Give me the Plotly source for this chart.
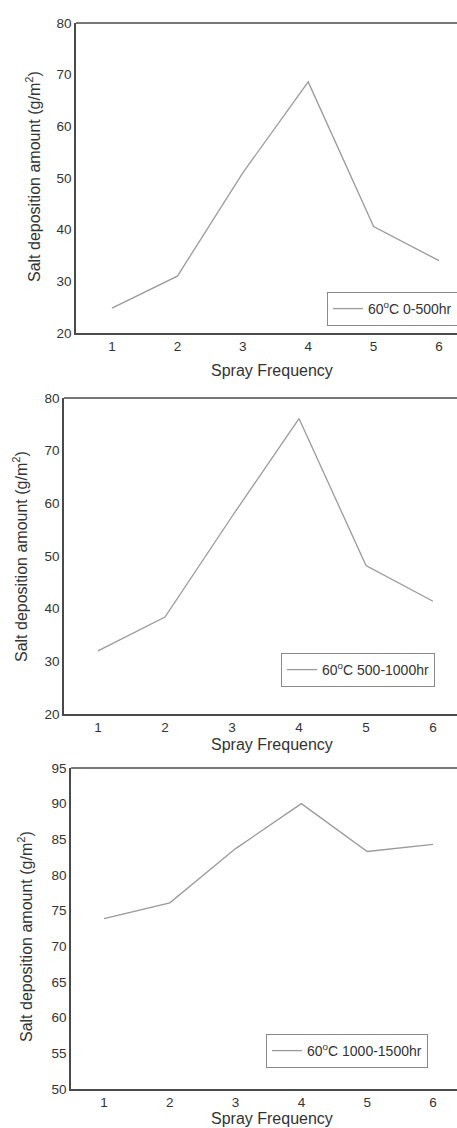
import plotly.graph_objects as go

spray_freq = [1, 2, 3, 4, 5, 6]
salt_0_500 = [24.8, 31.0, 51.0, 68.6, 40.6, 34.0]
salt_500_1000 = [32.0, 38.4, 57.5, 76.1, 48.2, 41.4]
salt_1000_1500 = [73.9, 76.1, 83.7, 90.0, 83.3, 84.3]
labels = ["60<sup>o</sup>C 0-500hr", "60<sup>o</sup>C 500-1000hr", "60<sup>o</sup>C 1000-1500hr"]
y_ranges = [[20, 80], [20, 80], [50, 95]]
y_ticks = [[20, 30, 40, 50, 60, 70, 80], [20, 30, 40, 50, 60, 70, 80],
           [50, 55, 60, 65, 70, 75, 80, 85, 90, 95]]

W, H = 457, 1128
FONT = "Liberation Sans, Arial, sans-serif"
AX = "#4a4a4a"
TXT = "#333333"
LINE = "#9a9a9a"

# pixel layout per panel: (left px, top px, bottom px, x range, legend pos, y-title pos, x-title y)
panels = [
    (76, 23, 333, [0.45, 6.275], (327, 292), (33, 177), 370),
    (64, 398, 714, [0.493, 6.358], (281, 653), (20, 557), 745),
    (71, 768, 1089, [0.498, 6.365], (266, 1034), (25, 937), 1118),
]
series = [salt_0_500, salt_500_1000, salt_1000_1500]

fig = go.Figure()
layout = dict(width=W, height=H, margin=dict(l=0, r=0, t=0, b=0, autoexpand=False),
              paper_bgcolor="white", plot_bgcolor="white",
              font=dict(family=FONT, color=TXT, size=13))
shapes = []
annotations = []
for i, (left, top, bottom, xr, leg, ytitle, xtitle_y) in enumerate(panels):
    n = "" if i == 0 else str(i + 1)
    xa, ya = "x" + n, "y" + n
    lg = "legend" if i == 0 else "legend" + str(i + 1)
    fig.add_trace(go.Scatter(x=spray_freq, y=series[i], mode="lines",
                             line=dict(color=LINE, width=1.3),
                             name=labels[i], xaxis=xa, yaxis=ya, legend=lg,
                             showlegend=True))
    layout["xaxis" + n] = dict(domain=[left / W, 1], range=xr, anchor=ya,
                               tickvals=spray_freq, showgrid=False, zeroline=False,
                               showline=True, linecolor=AX, linewidth=1.6,
                               ticks="", tickfont=dict(size=13.5, color=TXT))
    layout["yaxis" + n] = dict(domain=[(H - bottom) / H, (H - top) / H], range=y_ranges[i],
                               anchor=xa, tickvals=y_ticks[i], showgrid=False,
                               zeroline=False, showline=True, linecolor=AX, linewidth=1.6,
                               ticks="", tickfont=dict(size=13.5, color=TXT))
    layout[lg] = dict(x=leg[0] / W, y=(H - leg[1]) / H, xanchor="left", yanchor="top",
                      bgcolor="white", bordercolor="#8a8a8a", borderwidth=1,
                      font=dict(size=14, color=TXT, family=FONT))
    shapes.append(dict(type="line", xref=xa + " domain", yref=ya + " domain",
                       x0=0, x1=1, y0=1, y1=1, line=dict(color=AX, width=1.6)))
    annotations.append(dict(text="Spray Frequency", xref="paper", yref="paper",
                            x=272 / W, y=(H - xtitle_y) / H, xanchor="center", yanchor="middle",
                            showarrow=False, font=dict(size=16, color=TXT)))
    annotations.append(dict(text="Salt deposition amount (g/m<sup>2</sup>)", xref="paper",
                            yref="paper", x=ytitle[0] / W, y=(H - ytitle[1]) / H,
                            xanchor="center", yanchor="middle", textangle=-90,
                            showarrow=False, font=dict(size=16, color=TXT)))

layout["shapes"] = shapes
layout["annotations"] = annotations
fig.update_layout(**layout)
fig.write_html("out.html")
